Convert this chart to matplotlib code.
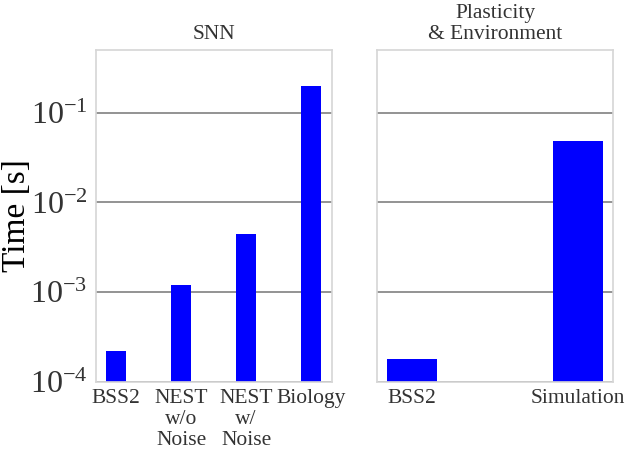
import matplotlib
matplotlib.use('Agg')
from matplotlib import pyplot as plt
import numpy as np

plt.rcParams['font.family'] = ['Liberation Serif', 'DejaVu Serif']
plt.rcParams['mathtext.fontset'] = 'custom'
plt.rcParams['mathtext.rm'] = 'Liberation Serif'
plt.rcParams['mathtext.it'] = 'Liberation Serif:italic'
plt.rcParams['text.color'] = '#333333'

# left panel: spiking network emulation
snn_labels = ['BSS2', 'NEST\nw/o\nNoise', 'NEST\nw/\nNoise', 'Biology']
snn_times = [2.2e-4, 1.2e-3, 4.4e-3, 0.2]

# right panel: plasticity and environment
plast_labels = ['BSS2', 'Simulation']
plast_times = [1.8e-4, 0.048]

fig = plt.figure(figsize=(6.3, 4.5), dpi=100)
ax1 = fig.add_axes([0.152, 0.151, 0.3745, 0.738])
ax2 = fig.add_axes([0.598, 0.151, 0.3755, 0.738], sharey=ax1)

ax1.bar(np.arange(len(snn_times)), snn_times, width=0.3, color='blue')
ax2.bar(np.arange(len(plast_times)), plast_times, width=0.3, color='blue')

for ax in (ax1, ax2):
    ax.set_yscale('log')
    ax.set_axisbelow(True)
    ax.grid(axis='y', color='#808080', linewidth=1.2)
    for s in ax.spines.values():
        s.set_color('#d6d6d6')
        s.set_linewidth(1.2)
    ax.tick_params(length=0, colors='#333333', labelcolor='#333333')
    ax.tick_params(axis='x', labelsize=15.5, pad=5)
    ax.minorticks_off()

ax1.set_ylim(1e-4, 0.5)
ax1.set_yticks([1e-4, 1e-3, 1e-2, 1e-1])
ax1.tick_params(axis='y', labelsize=23, pad=6)
ax1.minorticks_off()
plt.setp(ax2.get_yticklabels(), visible=False)

ax1.set_xticks(np.arange(len(snn_labels)))
ax1.set_xticklabels(snn_labels, linespacing=1.15)
ax2.set_xticks(np.arange(len(plast_labels)))
ax2.set_xticklabels(plast_labels)

ax1.set_ylabel('Time [s]', fontsize=24, va='center')
ax1.yaxis.set_label_coords(-0.335, 0.5)
ax1.set_title('SNN', fontsize=15.5, pad=8)
ax2.set_title('Plasticity\n& Environment', fontsize=15.5, pad=8, linespacing=1.1)

plt.savefig('out.png', dpi=100)
